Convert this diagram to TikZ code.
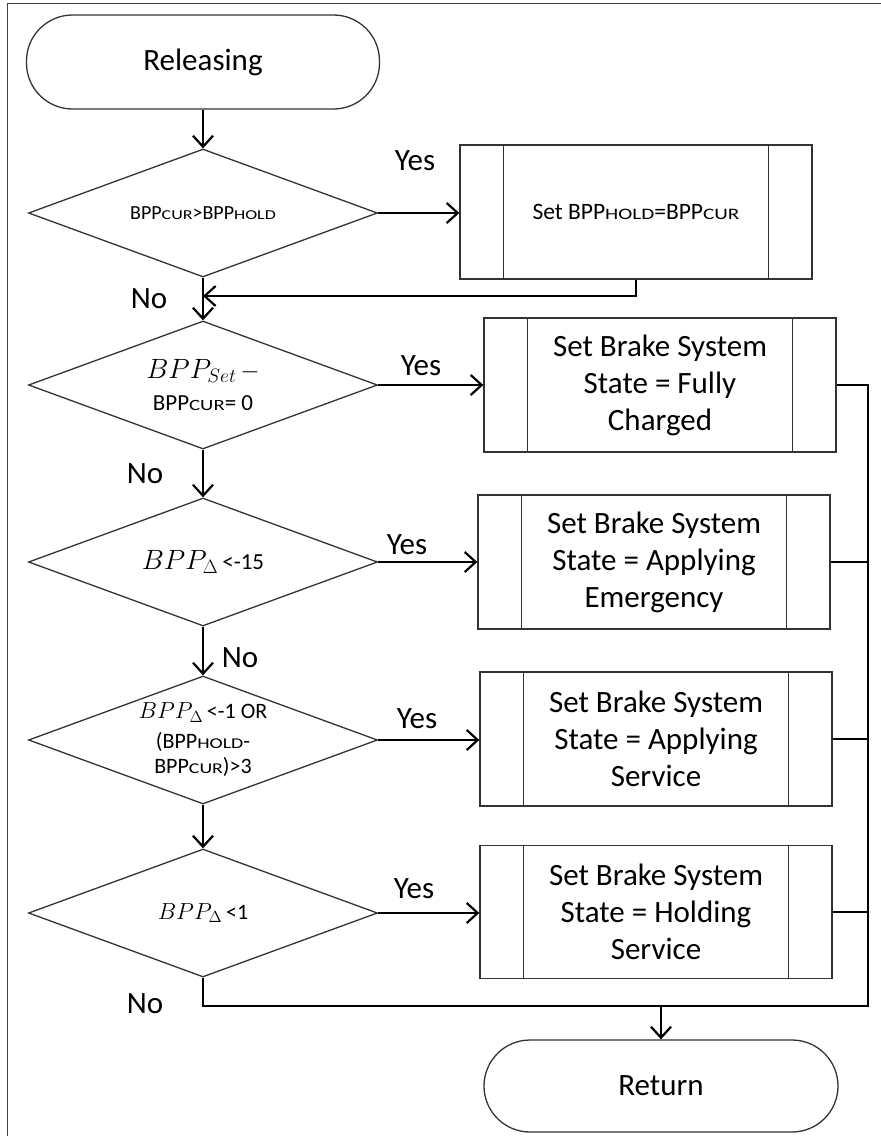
\documentclass[tikz,border=0pt]{standalone}
\usepackage{fontspec}
\setmainfont{Carlito}
\usetikzlibrary{shapes.geometric}
\usetikzlibrary{arrows.meta}

% squeezed capitals for the CUR / HOLD tags
\newcommand{\lowcaps}[1]{\scalebox{0.9}[0.68]{#1}}
% the pressure symbol set in math italic
\newcommand{\bppm}[1]{\scalebox{1.12}{$BPP_{#1}$}}

\begin{document}
\begin{tikzpicture}[
      x=1pt, y=-1pt,
      outline/.style={draw=black!80, line width=1.3pt},
      terminal/.style={outline, rounded corners=46pt, minimum width=353pt, minimum height=94pt,
        font=\fontsize{31}{37}\selectfont},
      decision/.style={outline, diamond, aspect=2.7, inner sep=0pt, minimum width=349pt,
        minimum height=128pt, align=center},
      process/.style={outline, minimum width=352pt, minimum height=134pt, inner sep=0pt,
        align=center, font=\fontsize{31}{37}\selectfont},
      answer/.style={font=\fontsize{31}{37}\selectfont, inner sep=0pt},
      flow/.style={line width=2.2pt, -{Straight Barb[length=11pt,width=20pt]}},
      wire/.style={line width=2.4pt},
    ]
    \useasboundingbox (0,0) rectangle (881,1136);
    \draw[line width=1pt, black!75] (7,1136) |- (881,3);

    % Start and end.
    \node[terminal] (rel) at (203,62) {Releasing};
    \node[terminal, minimum width=354pt, minimum height=92pt] (ret) at (661,1086) {Return};

    % The chain of tests.
    \node[decision, font=\fontsize{20}{24}\selectfont] (q1) at (203,213)
        {BPP\lowcaps{CUR}>BPP\lowcaps{HOLD}};
    \node[decision, font=\fontsize{23}{32}\selectfont] (q2) at (203,385)
        {\bppm{Set}\,$-$\\BPP\lowcaps{CUR}= 0};
    \node[decision, font=\fontsize{23}{26}\selectfont] (q3) at (203,562)
        {\bppm{\Delta}\,<-15};
    \node[decision, font=\fontsize{22}{25}\selectfont] (q4) at (203,740)
        {\bppm{\Delta}\,<-1 OR\\[5pt](BPP\lowcaps{HOLD}-\\BPP\lowcaps{CUR})>3};
    \node[decision, font=\fontsize{22}{25}\selectfont] (q5) at (203,913)
        {\bppm{\Delta}\,<1};

    % The actions.
    \node[process, font=\fontsize{23.5}{30}\selectfont] (setHold) at (636,212)
        {Set BPP\lowcaps{HOLD}=BPP\lowcaps{CUR}};
    \node[process] (full) at (660,385) {Set Brake System\\State = Fully\\Charged};
    \node[process] (emerg) at (654,562) {Set Brake System\\State = Applying\\Emergency};
    \node[process] (apply) at (656,739) {Set Brake System\\State = Applying\\Service};
    \node[process, minimum height=133pt] (hold) at (656,912) {Set Brake System\\State = Holding\\Service};
    \foreach \b in {setHold,full,emerg,apply,hold}
      \draw[outline] ([xshift=44pt]\b.north west) -- ([xshift=44pt]\b.south west)
                     ([xshift=-44pt]\b.north east) -- ([xshift=-44pt]\b.south east);

    % Yes / No labels.
    \node[answer] (yes1) at (415,161) {Yes};
    \node[answer] (no1) at (149,299) {No};
    \node[answer] (yes2) at (421,366) {Yes};
    \node[answer] (no2) at (145,474) {No};
    \node[answer] (yes3) at (407,545) {Yes};
    \node[answer] (no3) at (240,658) {No};
    \node[answer] (yes4) at (417,719) {Yes};
    \node[answer] (yes5) at (414,889) {Yes};
    \node[answer] (no5) at (145,1004) {No};

    \coordinate (merge) at (203,296);
    \coordinate (busEnd) at (868,1006);

    % Down the left column.
    \draw[flow] (rel) -- (q1);
    \draw[line width=2.2pt] (q1) -- (merge);
    \draw[flow] (merge) -- (q2);
    \draw[flow] (q2) -- (q3);
    \draw[flow] (q3) -- (q4);
    \draw[flow] (q4) -- (q5);

    % Yes branches.
    \draw[flow] (q1.east) -- (q1.east -| setHold.west);
    \draw[flow] (q2.east) -- (q2.east -| full.west);
    \draw[flow] (q3.east) -- (q3.east -| emerg.west);
    \draw[flow] (q4.east) -- (q4.east -| apply.west);
    \draw[flow] (q5.east) -- (q5.east -| hold.west);
    \draw[flow] (setHold.south) |- (merge);

    % Collect everything on the right and go to Return.
    \draw[wire] (full.east) -| (busEnd) -- (busEnd -| q5.south) -- (q5.south);
    \foreach \b in {emerg,apply,hold}
      \draw[wire] (\b.east) -- (\b.east -| busEnd);
    \draw[flow] (busEnd -| ret.north) -- (ret.north);
\end{tikzpicture}
\end{document}
